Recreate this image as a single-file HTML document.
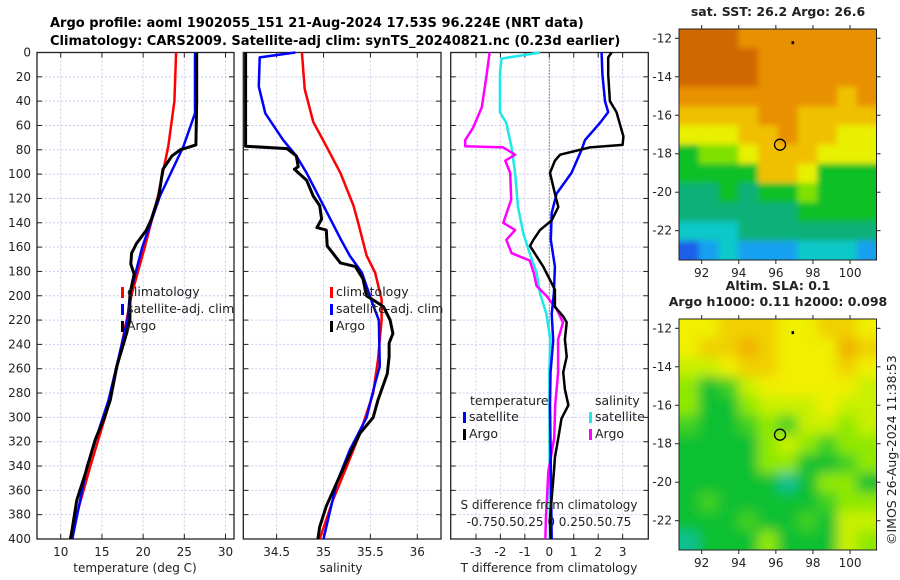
<!DOCTYPE html>
<html><head><meta charset="utf-8"><style>
body{margin:0;background:#fff;}
svg{display:block;font-family:"DejaVu Sans","Liberation Sans",sans-serif;}
</style></head><body>
<svg id="c" width="900" height="580" viewBox="0 0 900 580">
<defs>
<filter id="blurS" x="-10%" y="-10%" width="120%" height="120%"><feGaussianBlur stdDeviation="3"/></filter>
<filter id="blurL" x="-10%" y="-10%" width="120%" height="120%"><feGaussianBlur stdDeviation="6"/></filter>
<clipPath id="clipTop"><rect x="679" y="29" width="197.5" height="231"/></clipPath>
<clipPath id="clipBot"><rect x="679" y="319" width="197.5" height="231"/></clipPath>
</defs>
<text x="50" y="27" font-size="13" font-weight="bold">Argo profile: aoml 1902055_151 21-Aug-2024 17.53S 96.224E (NRT data)</text>
<text x="50" y="45" font-size="13" font-weight="bold">Climatology: CARS2009. Satellite-adj clim: synTS_20240821.nc (0.23d earlier)</text>
<g id="g"></g>
</svg>
<script>
// ---- data ----
const depthTicks=[0,20,40,60,80,100,120,140,160,180,200,220,240,260,280,300,320,340,360,380,400];
const tTicks=[10,15,20,25,30];
const sTicks=[34.5,35,35.5,36];
const dTicks=[-3,-2,-1,0,1,2,3];
// temperature
const tClimD=[0,40,77,118,160,199,220,286,340,400];
const tClimV=[24.0,23.8,23.05,21.8,20.2,18.6,18.0,16.0,13.6,11.1];
const tSatD=[0,50,77,118,160,199,220,286,340,400];
const tSatV=[26.3,26.3,24.9,22.05,19.9,18.4,18.1,15.8,13.2,11.4];
const tArgoD=[0,40,76,80,85,96,118,137,146,157,165,174,182,199,220,231,258,286,302,318,346,368,400];
const tArgoV=[26.5,26.5,26.4,24.5,23.5,22.4,21.9,21.0,20.4,19.2,18.6,18.5,18.9,18.4,18.4,18.0,16.8,16.0,15.2,14.2,13.0,11.95,11.2];
// salinity
const sClimD=[0,30,57,77,99,126,140,167,181,203,220,253,280,313,340,368,400];
const sClimV=[34.77,34.80,34.89,35.03,35.18,35.32,35.37,35.46,35.55,35.62,35.62,35.58,35.53,35.39,35.25,35.10,34.96];
const sSatD=[0,4,28,50,72,85,99,126,153,167,181,208,220,258,272,300,327,354,400];
const sSatV=[34.70,34.32,34.31,34.38,34.57,34.71,34.82,35.0,35.18,35.28,35.41,35.53,35.59,35.60,35.55,35.46,35.28,35.14,35.0];
const sArgoD=[0,77,79,85,94,96,105,118,126,137,144,146,159,167,173,176,186,200,206,209,220,231,239,250,264,286,300,313,327,354,373,390,400];
const sArgoV=[34.17,34.17,34.61,34.71,34.73,34.69,34.82,34.89,34.96,34.98,34.93,35.03,35.04,35.12,35.18,35.34,35.42,35.46,35.58,35.64,35.71,35.74,35.70,35.70,35.68,35.58,35.53,35.39,35.30,35.14,35.03,34.96,34.94];
// differences
const dtSatD=[0,18,40,49,58,72,80,99,116,132,154,176,198,215,237,263,290,400];
const dtSatV=[2.14,2.17,2.28,2.41,2.07,1.46,1.32,0.91,0.30,0.10,0.06,0.23,0.19,0.10,0.16,0.05,0.03,0.1];
const dtArgoD=[0,4,18,40,49,69,76,78,84,89,99,116,127,138,146,154,159,176,187,195,209,217,222,236,250,263,277,290,301,317,333,345,383,400];
const dtArgoV=[2.55,2.41,2.41,2.48,2.75,3.03,3.0,1.66,0.44,0.23,0.03,0.23,0.37,0.10,-0.38,-0.65,-0.79,-0.25,0.03,0.23,0.23,0.57,0.71,0.64,0.71,0.57,0.64,0.78,0.50,0.37,0.23,0.19,0.03,0.05];
const dsSatD=[0,5,18,49,58,78,99,127,149,165,181,198,215,236,263,400];
const dsSatV=[-0.095,-0.49,-0.505,-0.505,-0.44,-0.385,-0.35,-0.32,-0.265,-0.2,-0.13,-0.095,-0.03,0.01,0,0.005];
const dsArgoD=[0,18,45,62,72,77,78,84,89,99,121,140,146,154,165,171,181,192,200,211,222,236,263,290,317,345,383,400];
const dsArgoV=[-0.61,-0.64,-0.69,-0.78,-0.86,-0.86,-0.47,-0.35,-0.45,-0.40,-0.39,-0.47,-0.35,-0.44,-0.385,-0.2,-0.16,-0.13,-0.03,0.075,0.14,0.09,0.09,0.06,0.05,-0.01,-0.035,-0.04];
// maps (palette index grids, rows from north to south)
const sstGrid=[
[9,9,9,8,8,8,8,8,8,8],
[9,9,9,9,8,8,8,8,8,8],
[9,9,9,9,8,8,8,8,8,8],
[8,8,8,8,8,8,8,8,7,8],
[7,7,7,7,8,8,7,7,7,7],
[6,6,6,7,7,8,7,7,6,6],
[4,5,5,6,7,7,7,6,6,6],
[4,4,4,4,7,7,6,4,4,4],
[3,3,4,3,4,4,5,4,4,4],
[3,3,3,3,3,3,4,4,4,4],
[2,2,2,3,3,3,3,3,3,3],
[0,1,2,1,1,1,2,2,2,1]];
const slaGrid=[
[5,5,6,6,6,5,5,6,6,5],
[5,6,6,7,6,5,5,5,7,6],
[4,4,5,6,6,5,5,5,6,5],
[3,1,2,4,5,5,5,5,5,4],
[3,1,1,3,4,4,4,5,4,4],
[2,1,1,2,3,2,4,4,3,4],
[1,1,1,1,3,4,3,2,3,3],
[1,1,1,1,3,3,1,1,2,3],
[1,1,1,1,1,0,1,3,3,1],
[1,2,1,1,1,1,1,2,3,3],
[1,1,1,2,1,1,2,1,4,4],
[0,1,1,1,3,1,1,1,4,3]];
const lonTicks=[92,94,96,98,100];
const latTicks=[-12,-14,-16,-18,-20,-22];

const NS="http://www.w3.org/2000/svg";
const G=document.getElementById('g');
function el(t,a,p){const e=document.createElementNS(NS,t);for(const k in a)e.setAttribute(k,a[k]);(p||G).appendChild(e);return e;}
const Y0=52.5,Y1=539;
function yD(d){return Y0+d*(Y1-Y0)/400;}
function xT(t){return 37+(t-7.12)*(234-37)/(31.03-7.12);}
function xS(s){return 243.3+(s-34.145)*(441-243.3)/(36.253-34.145);}
function xDT(v){return 549.3+v*24.45;}
function xDS(s){return 549.3+s*4*24.45;}

function panel(name,x0,x1,ticks,xf,labels){
  const g=el('g',{});
  
  
  depthTicks.forEach(d=>{const l=el('line',{x1:x0,x2:x1,y1:yD(d),y2:yD(d),stroke:'#c4cdf0','stroke-dasharray':'2,2','stroke-width':1},g);
    
    el('line',{x1:x0,x2:x0+5,y1:yD(d),y2:yD(d),stroke:'#222'},g);el('line',{x1:x1-5,x2:x1,y1:yD(d),y2:yD(d),stroke:'#222'},g);});
  ticks.forEach((t,i)=>{const x=xf(t);
    const l=el('line',{x1:x,x2:x,y1:Y0,y2:Y1,stroke:'#d8c8e8','stroke-dasharray':'2,2'},g);
    
    el('line',{x1:x,x2:x,y1:Y1-5,y2:Y1,stroke:'#222'},g);el('line',{x1:x,x2:x,y1:Y0,y2:Y0+5,stroke:'#222'},g);
    const tx=el('text',{x:x,y:556,'font-size':12,'text-anchor':'middle',fill:'#222'},g);tx.textContent=labels?labels[i]:t;
    });
  const r=el('rect',{x:x0,y:Y0,width:x1-x0,height:Y1-Y0,fill:'none',stroke:'#222','stroke-width':1.3},g);
  
  return g;
}
function line(g,name,D,V,xf,col,w){
  const p=el('polyline',{points:D.map((d,i)=>xf(V[i]).toFixed(1)+','+yD(d).toFixed(1)).join(' '),fill:'none',stroke:col,'stroke-width':w||2.5,'stroke-linejoin':'round'},g);
  
}
function txt(s,x,y,o,name){const t=el('text',Object.assign({x:x,y:y,'font-size':12,fill:'#222'},o||{}));t.textContent=s;
  return t;}

depthTicks.forEach(d=>{txt(String(d),31,yD(d)+4,{'text-anchor':'end'},'depth-tick-label');});

const p1=panel('temperature-panel',37,234,tTicks,xT);
line(p1,'temp-climatology-line',tClimD,tClimV,xT,'#f00',2.5);
line(p1,'temp-satellite-line',tSatD,tSatV,xT,'#00f',2.5);
line(p1,'temp-argo-line',tArgoD,tArgoV,xT,'#000',3);
txt('temperature (deg C)',135,572,{'text-anchor':'middle'},'temperature-axis-title');
const p2=panel('salinity-panel',243.3,441,sTicks,xS);
line(p2,'sal-climatology-line',sClimD,sClimV,xS,'#f00',2.5);
line(p2,'sal-satellite-line',sSatD,sSatV,xS,'#00f',2.5);
line(p2,'sal-argo-line',sArgoD,sArgoV,xS,'#000',3);
txt('salinity',341,572,{'text-anchor':'middle'},'salinity-axis-title');
const p3=panel('difference-panel',450.7,648.3,dTicks,xDT);
const z=el('line',{x1:549.3,x2:549.3,y1:Y0,y2:Y1,stroke:'#333','stroke-dasharray':'1,2'},p3);

line(p3,'sal-diff-satellite-line',dsSatD,dsSatV,xDS,'#1ee8e8',2.5);
line(p3,'sal-diff-argo-line',dsArgoD,dsArgoV,xDS,'#f0f',2.5);
line(p3,'temp-diff-satellite-line',dtSatD,dtSatV,xDT,'#00f',2.5);
line(p3,'temp-diff-argo-line',dtArgoD,dtArgoV,xDT,'#000',2.5);
txt('T difference from climatology',549,572,{'text-anchor':'middle'},'tdiff-axis-title');
txt('S difference from climatology',549,509,{'text-anchor':'middle'},'sdiff-axis-title');
txt('-0.750.50.25 0 0.250.50.75',549,526,{'text-anchor':'middle'},'sdiff-tick-labels');

function leg(x,y,col,s,name){const r=el('rect',{x:x,y:y-9,width:3,height:11,fill:col});
  
  txt(s,x+6,y,{'font-size':12.5},name);}
leg(121,296,'#f00','climatology','legend-climatology');leg(121,313,'#00f','satellite-adj. clim','legend-satellite');leg(121,330,'#000','Argo','legend-argo');
leg(330,296,'#f00','climatology','legend2-climatology');leg(330,313,'#00f','satellite-adj. clim','legend2-satellite');leg(330,330,'#000','Argo','legend2-argo');
txt('temperature',470,405,{'font-size':12.5},'legend-temperature-heading');
txt('salinity',595,405,{'font-size':12.5},'legend-salinity-heading');
leg(463,421,'#00f','satellite','legend-tdiff-satellite');leg(463,438,'#000','Argo','legend-tdiff-argo');
leg(589,421,'#1ee8e8','satellite','legend-sdiff-satellite');leg(589,438,'#f0f','Argo','legend-sdiff-argo');

const sstPal=['#1a5ee8','#18a0f0','#10c8c8','#10b078','#10c028','#80e000','#e8f000','#f0c000','#e89000','#d06800'];
const slaPal=['#10c090','#10c030','#40d020','#90e800','#c8f000','#f0f000','#f0d000','#f0b000'];
function lonX(l){return 701.7+(l-92)*18.54;}
function latY(l,top){return top+9.3+(-12-l)*19.24;}
function map(name,top,grid,pal,clip,blur,t1,t2){
  const g=el('g',{});
  const L=679,R=876.5,B=top+231,rows=grid.length,cols=grid[0].length,cw=(R-L)/cols,ch=(B-top)/rows;
  const cg=el('g',{'clip-path':'url(#'+clip+')'},g);
  const bg=el('g',{filter:'url(#'+blur+')'},cg);
  const E=14;
  grid.forEach((row,i)=>row.forEach((v,j)=>{
    let x=L+j*cw,y=top+i*ch,w=cw+0.6,h=ch+0.6;
    if(j===0){x-=E;w+=E;} if(j===cols-1){w+=E;} if(i===0){y-=E;h+=E;} if(i===rows-1){h+=E;}
    const c=el('rect',{x:x,y:y,width:w,height:h,fill:pal[v]},bg);
    }));
  el('rect',{x:L,y:top,width:R-L,height:B-top,fill:'none',stroke:'#222'},g);
  lonTicks.forEach(l=>{const x=lonX(l);el('line',{x1:x,x2:x,y1:B,y2:B+4,stroke:'#222'},g);el('line',{x1:x,x2:x,y1:top-4,y2:top,stroke:'#222'},g);
    txt(String(l),x,B+17,{'text-anchor':'middle'},'lon-tick-label');});
  latTicks.forEach(l=>{const y=latY(l,top);el('line',{x1:L-4,x2:L,y1:y,y2:y,stroke:'#222'},g);el('line',{x1:R,x2:R+4,y1:y,y2:y,stroke:'#222'},g);
    txt(String(l),672,y+4,{'text-anchor':'end'},'lat-tick-label');});
  const c=el('circle',{cx:lonX(96.224),cy:latY(-17.53,top),r:5.5,fill:'none',stroke:'#000','stroke-width':1.3},g);
  
  el('rect',{x:lonX(96.9)-1,y:latY(-12.2,top)-1,width:2.5,height:3,fill:'#000'},g);
  if(t1)txt(t1,778,top-13,{'text-anchor':'middle','font-weight':'bold','font-size':12.5},name+'-title');
  if(t2)txt(t2,778,top-29,{'text-anchor':'middle','font-weight':'bold','font-size':12.5},name+'-title-top');
}
map('sst-map',29,sstGrid,sstPal,'clipTop','blurS','sat. SST: 26.2 Argo: 26.6');
map('sla-map',319,slaGrid,slaPal,'clipBot','blurL','Argo h1000: 0.11 h2000: 0.098','Altim. SLA: 0.1');
txt('©IMOS 26-Aug-2024 11:38:53',0,0,{'font-size':12.5,transform:'translate(896,545) rotate(-90)'},'copyright-timestamp');
</script>
</body></html>
